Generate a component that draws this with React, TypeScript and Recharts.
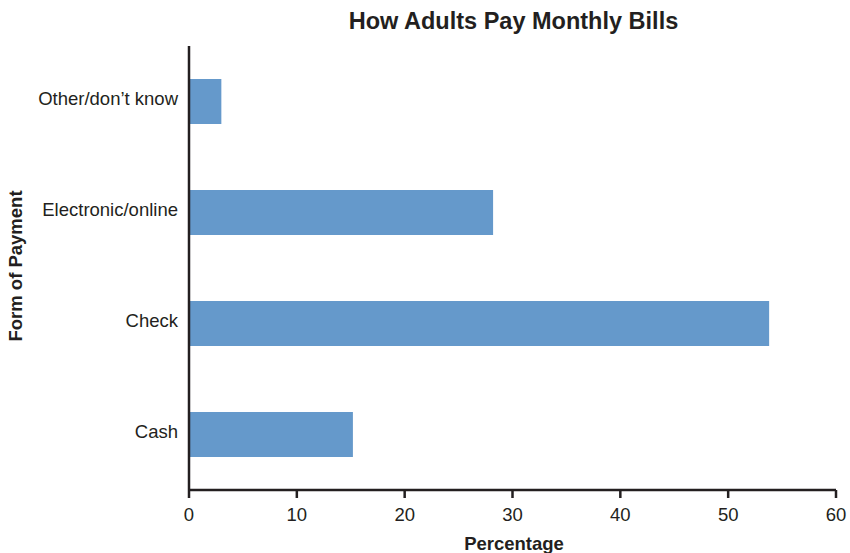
import React from 'react';
import { BarChart, Bar, XAxis, YAxis, Label } from 'recharts';

const categories = ['Other/don\u2019t know', 'Electronic/online', 'Check', 'Cash'];
const percentages = [3, 28.2, 53.8, 15.2];
const xTicks = [0, 10, 20, 30, 40, 50, 60];

const chartTitle = 'How Adults Pay Monthly Bills';
const xTitle = 'Percentage';
const yTitle = 'Form of Payment';

const data = categories.map((name, i) => ({ name, value: percentages[i] }));

const FONT = '"Liberation Sans", Arial, Helvetica, sans-serif';
const INK = '#231f20';
const BAR = '#6599cb';

export default function App() {
  return (
    <div style={{ position: 'absolute', left: 0, top: 0, width: 850, height: 553, background: '#fff' }}>
      <BarChart
        width={850}
        height={553}
        data={data}
        layout="vertical"
        margin={{ top: 46, right: 14, bottom: 0, left: 0 }}
        style={{ fontFamily: FONT }}
      >
        <XAxis
          type="number"
          domain={[0, 60]}
          ticks={xTicks}
          height={63}
          tickSize={8}
          tickMargin={10}
          axisLine={{ stroke: INK, strokeWidth: 2.5 }}
          tickLine={{ stroke: INK, strokeWidth: 2.5 }}
          tick={{ fontSize: 18.5, fill: INK, fontFamily: FONT }}
          allowDecimals={false}
        >
          <Label
            content={() => (
              <text
                x={514}
                y={550}
                textAnchor="middle"
                fontSize={18.5}
                fontWeight="bold"
                fill={INK}
                fontFamily={FONT}
              >
                {xTitle}
              </text>
            )}
          />
        </XAxis>
        <YAxis
          type="category"
          dataKey="name"
          width={189}
          tickSize={0}
          tickMargin={11}
          tickLine={false}
          axisLine={{ stroke: INK, strokeWidth: 2.5 }}
          tick={{ fontSize: 18.5, fill: INK, fontFamily: FONT, dy: -3 }}
          interval={0}
        >
          <Label
            content={() => (
              <g>
                <text
                  x={513.5}
                  y={28.5}
                  textAnchor="middle"
                  fontSize={23.5}
                  fontWeight="bold"
                  fill={INK}
                  fontFamily={FONT}
                >
                  {chartTitle}
                </text>
                <text
                  x={21.5}
                  y={266}
                  transform="rotate(-90 21.5 266)"
                  textAnchor="middle"
                  fontSize={18.5}
                  fontWeight="bold"
                  fill={INK}
                  fontFamily={FONT}
                >
                  {yTitle}
                </text>
              </g>
            )}
          />
        </YAxis>
        <Bar dataKey="value" fill={BAR} barSize={45} isAnimationActive={false} />
      </BarChart>
    </div>
  );
}
